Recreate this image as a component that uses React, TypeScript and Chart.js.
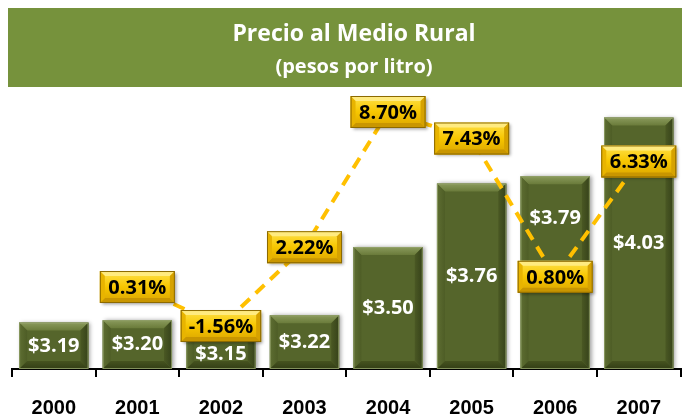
import React, { useEffect, useRef } from "react";
import { Chart, registerables } from "chart.js";

Chart.register(...registerables);

const TITLE = "Precio al Medio Rural";
const SUBTITLE = "(pesos por litro)";
const years = ["2000", "2001", "2002", "2003", "2004", "2005", "2006", "2007"];
const prices = [3.19, 3.2, 3.15, 3.22, 3.5, 3.76, 3.79, 4.03];
const pctChange: (number | null)[] = [null, 0.31, -1.56, 2.22, 8.7, 7.43, 0.8, 6.33];

const BAR_FACE = "#55652B";
const BANNER = "#76923C";
const LINE_GOLD = "#FFC000";
const FONT = "'Open Sans', 'DejaVu Sans', sans-serif";

function fmtPrice(v: number) {
  return "$" + v.toFixed(2);
}
function fmtPct(v: number) {
  return v.toFixed(2) + "%";
}

const decorPlugin = {
  id: "decor",
  afterLayout(chart: any) {
    chart.boxes.forEach((box: any) => {
      if (box && box.options && typeof box.options.text === "string" && box.left !== undefined) {
        box.left += 14;
      }
    });
  },
  beforeDraw(chart: any) {
    const ctx = chart.ctx;
    ctx.save();
    ctx.fillStyle = BANNER;
    ctx.fillRect(8, 8, chart.width - 8, 79);
    ctx.restore();
  },
  beforeDatasetDraw(chart: any, args: any) {
    if (args.index === 0) {
      const ctx = chart.ctx;
      ctx.save();
      ctx.shadowColor = "rgba(0,0,0,0.35)";
      ctx.shadowBlur = 4;
      ctx.shadowOffsetX = 2;
      ctx.shadowOffsetY = 0;
    }
  },
  afterDatasetDraw(chart: any, args: any) {
    if (args.index !== 0) return;
    const ctx = chart.ctx;
    ctx.restore();
    const meta = chart.getDatasetMeta(0);
    const b = 8;
    meta.data.forEach((el: any) => {
      const x0 = el.x - el.width / 2;
      const x1 = el.x + el.width / 2;
      const y0 = el.y;
      const y1 = el.base;
      ctx.save();
      let g = ctx.createLinearGradient(0, y0, 0, y0 + b);
      g.addColorStop(0, "#8A9A5C");
      g.addColorStop(1, "#6A7B3A");
      ctx.fillStyle = g;
      ctx.beginPath();
      ctx.moveTo(x0, y0);
      ctx.lineTo(x1, y0);
      ctx.lineTo(x1 - b, y0 + b);
      ctx.lineTo(x0 + b, y0 + b);
      ctx.closePath();
      ctx.fill();
      g = ctx.createLinearGradient(x0, 0, x0 + b, 0);
      g.addColorStop(0, "#5E6E32");
      g.addColorStop(1, "#4E5D26");
      ctx.fillStyle = g;
      ctx.beginPath();
      ctx.moveTo(x0, y0);
      ctx.lineTo(x0 + b, y0 + b);
      ctx.lineTo(x0 + b, y1 - b);
      ctx.lineTo(x0, y1);
      ctx.closePath();
      ctx.fill();
      g = ctx.createLinearGradient(x1 - b, 0, x1, 0);
      g.addColorStop(0, "#4A5823");
      g.addColorStop(1, "#36421A");
      ctx.fillStyle = g;
      ctx.beginPath();
      ctx.moveTo(x1, y0);
      ctx.lineTo(x1 - b, y0 + b);
      ctx.lineTo(x1 - b, y1 - b);
      ctx.lineTo(x1, y1);
      ctx.closePath();
      ctx.fill();
      g = ctx.createLinearGradient(0, y1 - b, 0, y1);
      g.addColorStop(0, "#46531F");
      g.addColorStop(1, "#333E16");
      ctx.fillStyle = g;
      ctx.beginPath();
      ctx.moveTo(x0, y1);
      ctx.lineTo(x0 + b, y1 - b);
      ctx.lineTo(x1 - b, y1 - b);
      ctx.lineTo(x1, y1);
      ctx.closePath();
      ctx.fill();
      ctx.strokeStyle = "rgba(150,165,110,0.8)";
      ctx.lineWidth = 1;
      ctx.strokeRect(x0 + 0.5, y0 + 0.5, el.width - 1, y1 - y0 - 1);
      ctx.restore();
    });
  },
  afterDatasetsDraw(chart: any) {
    const ctx = chart.ctx;
    const barMeta = chart.getDatasetMeta(0);
    const lineMeta = chart.getDatasetMeta(1);
    const boxH = 32;

    ctx.save();
    ctx.font = `bold 20px ${FONT}`;
    ctx.fillStyle = "#FFFFFF";
    ctx.textAlign = "center";
    ctx.textBaseline = "middle";
    barMeta.data.forEach((el: any, i: number) => {
      let y = (el.y + el.base) / 2;
      const p = lineMeta.data[i];
      if (pctChange[i] !== null && p) {
        const bt = p.y - boxH / 2;
        const bb = p.y + boxH / 2;
        if (y + 12 > bt && y - 12 < bb) {
          if (p.y > el.y) {
            y = (el.y + bt) / 2;
          } else {
            y = Math.max(y, bb + 12);
          }
        }
      }
      ctx.fillText(fmtPrice(prices[i]), el.x, y);
    });
    ctx.restore();

    ctx.save();
    ctx.font = `bold 20px ${FONT}`;
    lineMeta.data.forEach((pt: any, i: number) => {
      const v = pctChange[i];
      if (v === null || v === undefined) return;
      const txt = fmtPct(v);
      const tw = ctx.measureText(txt).width;
      const w = Math.max(75, tw + 16);
      const h = boxH;
      const x0 = pt.x - w / 2;
      const y0 = pt.y - h / 2;
      const b = 5;
      ctx.save();
      ctx.shadowColor = "rgba(0,0,0,0.35)";
      ctx.shadowBlur = 3;
      ctx.shadowOffsetX = 2;
      ctx.shadowOffsetY = 2;
      const g = ctx.createLinearGradient(0, y0, 0, y0 + h);
      g.addColorStop(0, "#FFE24A");
      g.addColorStop(0.5, "#F7C600");
      g.addColorStop(1, "#D9A400");
      ctx.fillStyle = g;
      ctx.fillRect(x0, y0, w, h);
      ctx.restore();
      ctx.fillStyle = "#FFEB80";
      ctx.beginPath();
      ctx.moveTo(x0, y0);
      ctx.lineTo(x0 + w, y0);
      ctx.lineTo(x0 + w - b, y0 + b);
      ctx.lineTo(x0 + b, y0 + b);
      ctx.closePath();
      ctx.fill();
      ctx.fillStyle = "#C99600";
      ctx.beginPath();
      ctx.moveTo(x0, y0 + h);
      ctx.lineTo(x0 + b, y0 + h - b);
      ctx.lineTo(x0 + w - b, y0 + h - b);
      ctx.lineTo(x0 + w, y0 + h);
      ctx.closePath();
      ctx.fill();
      ctx.fillStyle = "#E8B400";
      ctx.beginPath();
      ctx.moveTo(x0, y0);
      ctx.lineTo(x0 + b, y0 + b);
      ctx.lineTo(x0 + b, y0 + h - b);
      ctx.lineTo(x0, y0 + h);
      ctx.closePath();
      ctx.fill();
      ctx.fillStyle = "#D6A200";
      ctx.beginPath();
      ctx.moveTo(x0 + w, y0);
      ctx.lineTo(x0 + w - b, y0 + b);
      ctx.lineTo(x0 + w - b, y0 + h - b);
      ctx.lineTo(x0 + w, y0 + h);
      ctx.closePath();
      ctx.fill();
      ctx.strokeStyle = "#8C6A00";
      ctx.lineWidth = 1;
      ctx.strokeRect(x0 + 0.5, y0 + 0.5, w - 1, h - 1);
      ctx.fillStyle = "#000000";
      ctx.textAlign = "center";
      ctx.textBaseline = "middle";
      ctx.fillText(txt, pt.x, pt.y + 1);
    });
    ctx.restore();
  },
};

export default function App() {
  const ref = useRef<HTMLCanvasElement | null>(null);

  useEffect(() => {
    document.body.style.margin = "0";
    if (!ref.current) return;
    const chart = new Chart(ref.current, {
      type: "bar",
      data: {
        labels: years,
        datasets: [
          {
            type: "bar",
            label: "Precio",
            data: prices,
            base: 3.0,
            backgroundColor: BAR_FACE,
            borderWidth: 0,
            barPercentage: 0.83,
            categoryPercentage: 1,
            yAxisID: "y",
            order: 2,
          },
          {
            type: "line",
            label: "Variación",
            data: pctChange,
            borderColor: LINE_GOLD,
            borderWidth: 4,
            borderDash: [12, 8],
            pointRadius: 0,
            tension: 0,
            spanGaps: false,
            fill: false,
            yAxisID: "y2",
            order: 1,
          },
        ],
      },
      options: {
        responsive: false,
        animation: false,
        layout: { padding: { left: 12, right: 0, top: 0, bottom: 0 } },
        plugins: {
          legend: { display: false },
          tooltip: { enabled: false },
          title: {
            display: true,
            text: TITLE,
            color: "#FFFFFF",
            font: { family: FONT, size: 23, weight: "bold", lineHeight: 1.2 },
            padding: { top: 20.2, bottom: 0 },
          },
          subtitle: {
            display: true,
            text: SUBTITLE,
            color: "#FFFFFF",
            font: { family: FONT, size: 20, weight: "bold", lineHeight: 1.2 },
            padding: { top: 7.2, bottom: 11 },
          },
        },
        scales: {
          x: {
            afterFit: (scale: any) => {
              scale.height = 48;
            },
            grid: {
              display: true,
              drawOnChartArea: false,
              drawTicks: true,
              tickLength: 8,
              color: "#000000",
              lineWidth: 2,
              offset: true,
            },
            border: { display: true, color: "#000000", width: 2 },
            ticks: {
              color: "#000000",
              padding: 21,
              font: { family: "'Liberation Sans', Arial, sans-serif", size: 20, weight: "bold", lineHeight: 1 },
            },
          },
          y: {
            display: false,
            min: 3.0,
            max: 4.143,
          },
          y2: {
            display: false,
            min: -3.62,
            max: 9.755,
          },
        },
      },
      plugins: [decorPlugin],
    });
    return () => chart.destroy();
  }, []);

  return (
    <div style={{ position: "absolute", left: 0, top: 0, width: 682, height: 417 }}>
      <canvas ref={ref} width={682} height={417} style={{ display: "block" }} />
    </div>
  );
}
